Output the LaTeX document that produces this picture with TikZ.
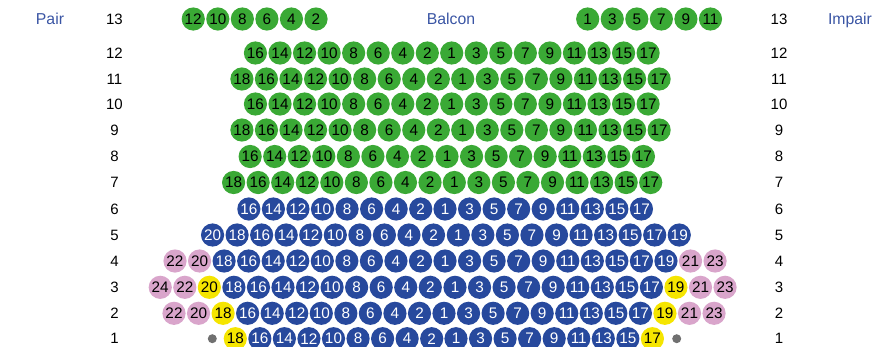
\documentclass[tikz,border=0pt]{standalone}
\usepackage{fontspec}
\setmainfont{Liberation Sans}
\definecolor{seatgreen}{HTML}{3AA935}
\definecolor{seatblue}{HTML}{27499D}
\definecolor{seatpink}{HTML}{D9A5CB}
\definecolor{seatyellow}{HTML}{F5E500}
\definecolor{dotgray}{HTML}{707070}
\definecolor{labelblue}{HTML}{3A55A4}
\tikzset{
  seat/.style={circle,inner sep=0pt,minimum size=23.2pt,font=\fontsize{15.3}{15.3}\selectfont,text=black},
  green/.style={seat,fill=seatgreen},
  blue/.style={seat,fill=seatblue,text=white},
  pink/.style={seat,fill=seatpink},
  yellow/.style={seat,fill=seatyellow},
  rownum/.style={font=\fontsize{15}{15}\selectfont,text=black},
  sidelabel/.style={font=\fontsize{15.8}{15.8}\selectfont,text=labelblue,anchor=base},
  enddot/.style={circle,inner sep=0pt,minimum size=9pt,fill=dotgray}
}
\begin{document}
\begin{tikzpicture}[x=1pt,y=-1pt]
\useasboundingbox (0,0) rectangle (878,346);
\clip (0,0) rectangle (878,346);
\node[sidelabel] (pair) at (50,24.5) {Pair};
\node[sidelabel] (balcon) at (451,24.5) {Balcon};
\node[sidelabel] (impair) at (850,24.5) {Impair};
% row / y / x of seat 2 / x of seat 1 / last even / last odd / base style / even yellow from / even pink from / odd yellow from / odd pink from
\foreach \r/\y/\xe/\xo/\me/\mo/\base/\ye/\pe/\yo/\po in {
  13/19/316/587.7/12/11/green/99/99/99/99,
  12/53/427.3/451.7/16/17/green/99/99/99/99,
  11/79/438.3/462.7/18/17/green/99/99/99/99,
  10/104/427.3/451.7/16/17/green/99/99/99/99,
  9/130/438.3/462.7/18/17/green/99/99/99/99,
  8/156.5/422/447/16/17/green/99/99/99/99,
  7/182.5/430/454.3/18/17/green/99/99/99/99,
  6/209/420.7/445/16/17/blue/99/99/99/99,
  5/235/433.5/458.3/20/19/blue/99/99/99/99,
  4/261/420.5/445/22/23/blue/99/20/99/21,
  3/287.3/430.3/455/24/23/blue/20/22/19/21,
  2/313.3/419.5/444/22/23/blue/18/20/19/21,
  1/338.7/431.7/456/18/17/blue/18/99/17/99}{
  \node[rownum] (rl\r) at (114.5,\y) {\r};
  \node[rownum] (rr\r) at (779,\y) {\r};
  \foreach \n in {2,4,...,\me}{
    \pgfmathsetmacro{\px}{\xe-(\n-2)/2*24.55}
    \ifnum\n<\ye\relax\def\st{\base}\else\ifnum\n<\pe\relax\def\st{yellow}\else\def\st{pink}\fi\fi
    \ifnum\n<\ye\relax\ifnum\n<\pe\relax\else\def\st{pink}\fi\fi
    \node[\st] (s\r-\n) at (\px,\y) {\n};
  }
  \foreach \n in {1,3,...,\mo}{
    \pgfmathsetmacro{\px}{\xo+(\n-1)/2*24.55}
    \ifnum\n<\yo\relax\def\st{\base}\else\ifnum\n<\po\relax\def\st{yellow}\else\def\st{pink}\fi\fi
    \ifnum\n<\yo\relax\ifnum\n<\po\relax\else\def\st{pink}\fi\fi
    \node[\st] (s\r-\n) at (\px,\y) {\n};
  }
}
\node[enddot] (dotleft) at (212.3,338.7) {};
\node[enddot] (dotright) at (676.7,338.7) {};
\end{tikzpicture}
\end{document}
